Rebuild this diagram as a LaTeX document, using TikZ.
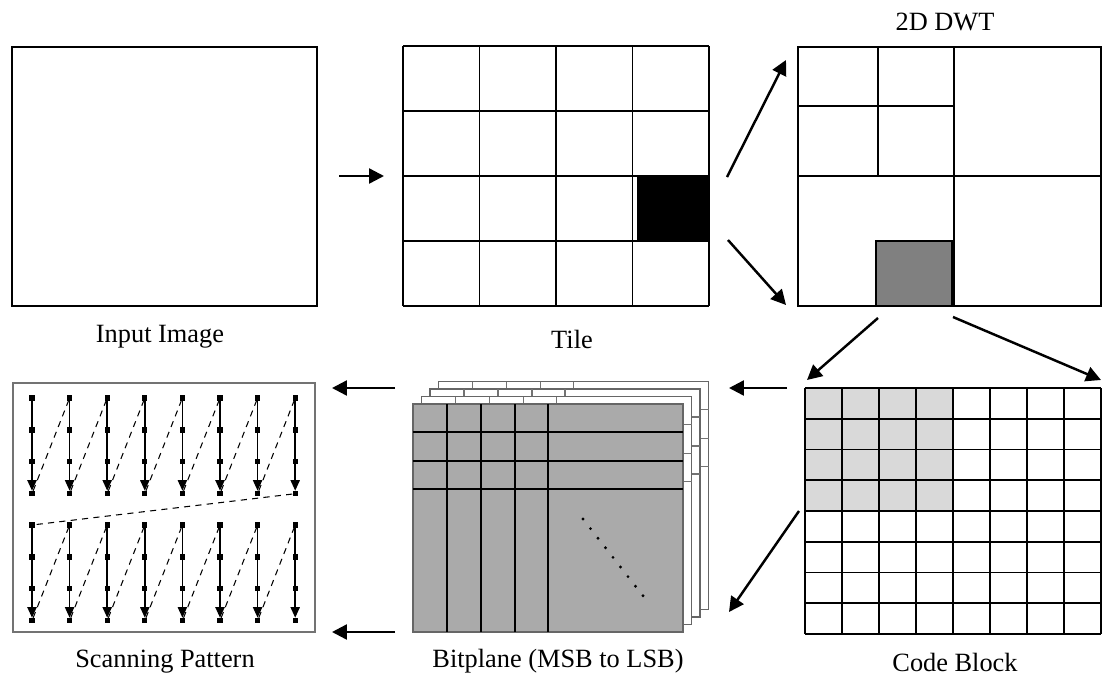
\documentclass[tikz,border=0pt]{standalone}
\usepackage{fontspec}
\setmainfont{Liberation Serif}
\usetikzlibrary{arrows.meta}
\definecolor{plategray}{gray}{0.667}
\definecolor{blockgray}{gray}{0.5}
\definecolor{cbgray}{gray}{0.85}
\begin{document}
\begin{tikzpicture}[x=0.02cm,y=-0.02cm,
  flow/.style={line width=1.4pt, -{Triangle[length=8.5pt,width=8.5pt]}},
  boxline/.style={line width=1.1pt},
  gridline/.style={line width=1.05pt},
  captiontext/.style={font=\fontsize{15}{18}\selectfont, inner sep=0pt},
  sqdot/.style={fill, inner sep=0pt, minimum size=3pt},
  scanstep/.style={line width=0.9pt, -{Triangle[length=6pt,width=5.2pt]}},
  scanjump/.style={line width=0.6pt, dash pattern=on 3.5pt off 3pt},
  plateline/.style={line width=0.6pt},
]
\useasboundingbox (0,0) rectangle (1103,677);

% ---------- Input image ----------
\draw[boxline] (12,47) rectangle (317,306);
\node[captiontext] (cap-in) at (160,337) {Input Image};

% ---------- Tiles (4 x 4) ----------
\fill (637,176) rectangle (709,241);
\foreach \i in {0,...,4}
  \draw[gridline] ({403+76.5*\i},46) -- ({403+76.5*\i},306);
\foreach \j in {0,...,4}
  \draw[gridline] (403,{46+65*\j}) -- (709,{46+65*\j});
\node[captiontext] (cap-tile) at (572,339) {Tile};

% ---------- 2D DWT subbands ----------
\draw[boxline] (798,47) rectangle (1101,306);
\draw[boxline] (954,47) -- (954,306);
\draw[boxline] (798,176) -- (1101,176);
\draw[gridline] (878,47) -- (878,176);
\draw[gridline] (798,106) -- (954,106);
\draw[gridline, fill=blockgray] (876,241) rectangle (952,306);
\node[captiontext] (cap-dwt) at (945,22) {2D DWT};

% ---------- Code block (8 x 8) ----------
\fill[cbgray] (805,388) rectangle (953,511);
\foreach \i in {0,...,8}
  \draw[gridline] ({805+37*\i},388) -- ({805+37*\i},634);
\foreach \j in {0,...,8}
  \draw[gridline] (805,{388+30.75*\j}) -- (1101,{388+30.75*\j});
\node[captiontext] (cap-cb) at (955,662) {Code Block};

% ---------- Bitplanes, back to front ----------
\foreach \k/\fc/\lc in {3/white/black!55,2/white/black!55,1/white/black!55,0/plategray/black} {
  \begin{scope}[shift={({8.5*\k},{-7.5*\k})}]
    \filldraw[fill=\fc, draw=black!60, line width=0.7pt] (413,404) rectangle (683,632);
    \foreach \gx in {447,481,515,548}
      \draw[plateline, draw=\lc] (\gx,404) -- (\gx,632);
    \foreach \gy in {432,461,489}
      \draw[plateline, draw=\lc] (413,\gy) -- (683,\gy);
  \end{scope}
}
\foreach \t in {0,...,8}
  \fill ({583+7.5*\t},{519+9.6*\t}) circle[radius=0.9pt];
\node[captiontext] (cap-bp) at (558,661) {Bitplane (MSB to LSB)};

% ---------- Scanning pattern ----------
\draw[line width=1.1pt, draw=black!55] (13,383) rectangle (315,632);
\foreach \g/\yo in {1/398,2/525}
  \foreach \c in {1,...,8}
    \foreach \r in {1,...,4}
      \node[sqdot] (s-\g-\c-\r) at ({32+37.6*(\c-1)},{\yo+31.9*(\r-1)}) {};
\foreach \g in {1,2}
  \foreach \c in {1,...,8}
    \draw[scanstep] (s-\g-\c-1) -- (s-\g-\c-4);
\foreach \g in {1,2}
  \foreach \c [count=\n from 2] in {1,...,7}
    \draw[scanjump] (s-\g-\c-4) -- (s-\g-\n-1);
\draw[scanjump] (s-1-8-4) -- (s-2-1-1);
\node[captiontext] (cap-scan) at (165,662) {Scanning Pattern};

% ---------- Connectors ----------
\coordinate (in-out)   at (339,176);
\coordinate (tile-in)  at (384,176);
\coordinate (tile-up)  at (727,177);
\coordinate (dwt-top)  at (786,60);
\coordinate (tile-dn)  at (728,240);
\coordinate (dwt-bot)  at (786,305);
\coordinate (blk-l)    at (878,318);
\coordinate (cb-tl)    at (807,380);
\coordinate (blk-r)    at (953,317);
\coordinate (cb-tr)    at (1101,380);
\coordinate (cb-out)   at (787,388);
\coordinate (bp-in)    at (729,388);
\coordinate (cb-side)  at (799,511);
\coordinate (bp-low)   at (729,612);
\coordinate (bp-out)   at (395,388);
\coordinate (sc-in)    at (332,388);
\coordinate (bp-out2)  at (395,632);
\coordinate (sc-in2)   at (332,632);

\draw[flow] (in-out) -- (tile-in);
\draw[flow] (tile-up) -- (dwt-top);
\draw[flow] (tile-dn) -- (dwt-bot);
\draw[flow] (blk-l) -- (cb-tl);
\draw[flow] (blk-r) -- (cb-tr);
\draw[flow] (cb-out) -- (bp-in);
\draw[flow] (cb-side) -- (bp-low);
\draw[flow] (bp-out) -- (sc-in);
\draw[flow] (bp-out2) -- (sc-in2);
\end{tikzpicture}
\end{document}
